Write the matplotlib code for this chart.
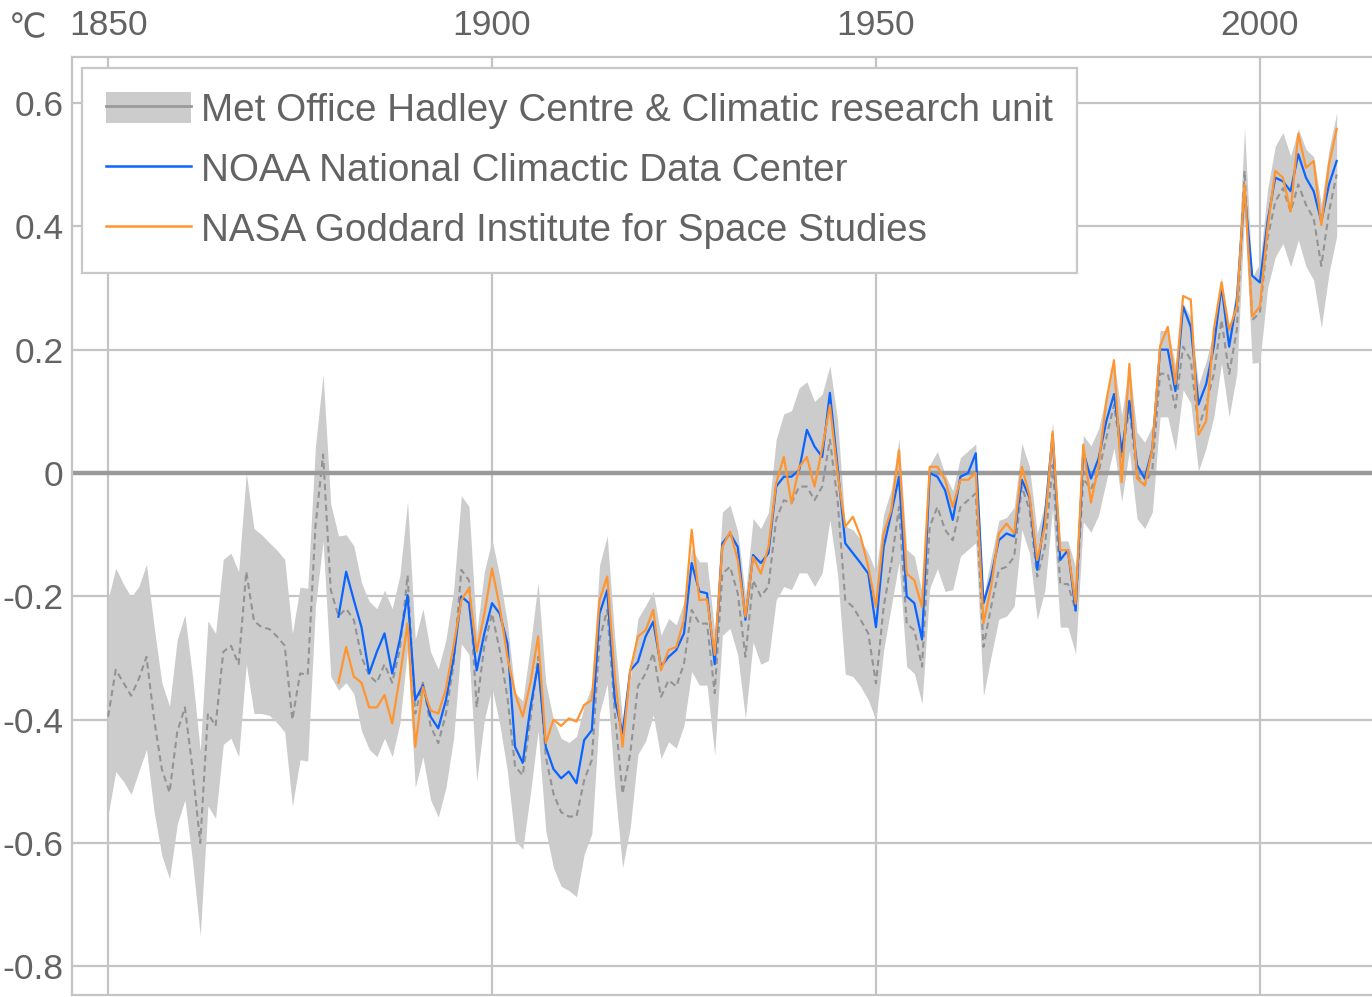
import matplotlib
matplotlib.use("Agg")
import matplotlib.pyplot as plt
from matplotlib.patches import Patch
from matplotlib.lines import Line2D

# ---------------- data ----------------
had_years = list(range(1850, 2011))
hadcrut = [
    -0.395, -0.319, -0.34, -0.361, -0.334, -0.298, -0.40, -0.48, -0.518, -0.42,
    -0.38, -0.48, -0.60, -0.39, -0.41, -0.29, -0.28, -0.31, -0.16, -0.24,
    -0.25, -0.253, -0.265, -0.28, -0.40, -0.325, -0.327, -0.087, 0.03, -0.19,
    -0.232, -0.22, -0.238, -0.298, -0.328, -0.34, -0.31, -0.34, -0.286, -0.166,
    -0.39, -0.34, -0.41, -0.438, -0.39, -0.31, -0.157, -0.174, -0.38, -0.28,
    -0.228, -0.287, -0.363, -0.476, -0.49, -0.40, -0.298, -0.46, -0.52, -0.55,
    -0.557, -0.557, -0.498, -0.465, -0.27, -0.222, -0.39, -0.52, -0.455, -0.346,
    -0.325, -0.292, -0.363, -0.336, -0.346, -0.309, -0.222, -0.244, -0.244, -0.357,
    -0.163, -0.152, -0.195, -0.298, -0.174, -0.2, -0.184, -0.076, -0.044, -0.049,
    -0.022, -0.022, -0.044, -0.022, 0.054, -0.044, -0.206, -0.217, -0.238, -0.26,
    -0.341, -0.217, -0.146, -0.055, -0.244, -0.255, -0.314, -0.087, -0.055, -0.092,
    -0.109, -0.055, -0.044, -0.033, -0.282, -0.217, -0.157, -0.152, -0.136, -0.022,
    -0.06, -0.168, -0.12, 0.013, -0.18, -0.18, -0.223, -0.009, -0.026, 0.002,
    0.057, 0.111, 0.024, 0.106, -0.004, -0.02, 0.007, 0.161, 0.161, 0.106,
    0.205, 0.183, 0.073, 0.111, 0.161, 0.248, 0.161, 0.232, 0.49, 0.248,
    0.26, 0.38, 0.44, 0.462, 0.424, 0.468, 0.435, 0.413, 0.336, 0.424,
    0.484,
]
had_unc_up = [
    0.19, 0.165, 0.16, 0.16, 0.15, 0.15, 0.15, 0.14, 0.14, 0.15,
    0.15, 0.15, 0.15, 0.15, 0.15, 0.15, 0.15, 0.15, 0.16, 0.15,
    0.15, 0.14, 0.14, 0.14, 0.14, 0.14, 0.14, 0.13, 0.13, 0.14,
    0.13, 0.12, 0.12, 0.12, 0.12, 0.12, 0.12, 0.12, 0.12, 0.12,
    0.12, 0.12, 0.12, 0.12, 0.12, 0.12, 0.12, 0.12, 0.12, 0.12,
    0.12, 0.12, 0.12, 0.12, 0.12, 0.12, 0.12, 0.12, 0.12, 0.12,
    0.12, 0.13, 0.12, 0.12, 0.12, 0.12, 0.12, 0.12, 0.12, 0.11,
    0.11, 0.10, 0.10, 0.10, 0.10, 0.10, 0.10, 0.10, 0.10, 0.10,
    0.10, 0.10, 0.10, 0.10, 0.10, 0.11, 0.12, 0.13, 0.14, 0.15,
    0.16, 0.17, 0.16, 0.15, 0.12, 0.13, 0.12, 0.125, 0.13, 0.13,
    0.18, 0.15, 0.12, 0.11, 0.12, 0.12, 0.12, 0.10, 0.09, 0.09,
    0.08, 0.08, 0.08, 0.08, 0.08, 0.08, 0.08, 0.08, 0.08, 0.07,
    0.07, 0.07, 0.07, 0.07, 0.07, 0.07, 0.07, 0.07, 0.07, 0.07,
    0.07, 0.07, 0.07, 0.07, 0.07, 0.07, 0.07, 0.07, 0.07, 0.07,
    0.07, 0.07, 0.07, 0.07, 0.07, 0.07, 0.07, 0.07, 0.07, 0.07,
    0.08, 0.08, 0.09, 0.09, 0.09, 0.09, 0.09, 0.10, 0.10, 0.10,
    0.10,
]
had_unc_down = [
    0.16, 0.165, 0.16, 0.16, 0.15, 0.15, 0.15, 0.14, 0.14, 0.15,
    0.15, 0.15, 0.15, 0.15, 0.15, 0.15, 0.15, 0.15, 0.15, 0.15,
    0.14, 0.14, 0.14, 0.14, 0.14, 0.14, 0.14, 0.13, 0.14, 0.14,
    0.12, 0.12, 0.12, 0.12, 0.12, 0.12, 0.12, 0.12, 0.12, 0.12,
    0.12, 0.12, 0.12, 0.12, 0.12, 0.12, 0.12, 0.12, 0.12, 0.12,
    0.12, 0.12, 0.12, 0.12, 0.12, 0.12, 0.12, 0.12, 0.12, 0.12,
    0.12, 0.13, 0.12, 0.12, 0.12, 0.12, 0.12, 0.12, 0.12, 0.11,
    0.11, 0.10, 0.10, 0.10, 0.10, 0.10, 0.10, 0.10, 0.10, 0.10,
    0.10, 0.10, 0.10, 0.10, 0.10, 0.11, 0.12, 0.13, 0.14, 0.14,
    0.14, 0.14, 0.14, 0.14, 0.13, 0.12, 0.12, 0.113, 0.108, 0.108,
    0.06, 0.07, 0.07, 0.09, 0.07, 0.07, 0.06, 0.10, 0.10, 0.10,
    0.08, 0.08, 0.08, 0.08, 0.08, 0.08, 0.08, 0.08, 0.08, 0.07,
    0.07, 0.07, 0.07, 0.07, 0.07, 0.07, 0.07, 0.07, 0.07, 0.07,
    0.07, 0.07, 0.07, 0.07, 0.07, 0.07, 0.07, 0.07, 0.07, 0.07,
    0.07, 0.07, 0.07, 0.07, 0.07, 0.07, 0.07, 0.07, 0.07, 0.07,
    0.08, 0.08, 0.09, 0.09, 0.09, 0.09, 0.10, 0.10, 0.10, 0.10,
    0.10,
]

us_years = list(range(1880, 2011))
noaa = [
    -0.233, -0.16, -0.206, -0.25, -0.325, -0.29, -0.26, -0.325, -0.27, -0.198,
    -0.368, -0.344, -0.395, -0.414, -0.368, -0.30, -0.20, -0.211, -0.32, -0.26,
    -0.211, -0.228, -0.276, -0.444, -0.47, -0.38, -0.31, -0.444, -0.48, -0.495,
    -0.484, -0.503, -0.433, -0.417, -0.228, -0.19, -0.368, -0.422, -0.32, -0.306,
    -0.265, -0.241, -0.314, -0.298, -0.287, -0.26, -0.146, -0.192, -0.195, -0.31,
    -0.114, -0.098, -0.12, -0.238, -0.133, -0.146, -0.13, -0.022, -0.006, -0.006,
    0.005, 0.07, 0.043, 0.026, 0.13, 0.01, -0.114, -0.13, -0.146, -0.163,
    -0.25, -0.12, -0.065, -0.006, -0.20, -0.211, -0.27, 0.0, -0.006, -0.028,
    -0.076, -0.006, 0.0, 0.032, -0.211, -0.168, -0.109, -0.098, -0.103, -0.011,
    -0.04, -0.157, -0.07, 0.062, -0.141, -0.125, -0.223, 0.035, -0.009, 0.024,
    0.084, 0.128, 0.035, 0.117, 0.013, -0.009, 0.04, 0.2, 0.2, 0.133,
    0.27, 0.237, 0.111, 0.144, 0.205, 0.303, 0.205, 0.281, 0.457, 0.32,
    0.309, 0.408, 0.479, 0.473, 0.457, 0.517, 0.479, 0.457, 0.408, 0.468,
    0.506,
]
nasa = [
    -0.34, -0.282, -0.33, -0.34, -0.38, -0.38, -0.36, -0.406, -0.33, -0.244,
    -0.444, -0.347, -0.385, -0.39, -0.35, -0.28, -0.206, -0.187, -0.29, -0.228,
    -0.155, -0.217, -0.298, -0.357, -0.395, -0.34, -0.265, -0.438, -0.40, -0.41,
    -0.398, -0.403, -0.376, -0.368, -0.206, -0.168, -0.33, -0.444, -0.32, -0.265,
    -0.255, -0.222, -0.32, -0.287, -0.282, -0.238, -0.092, -0.206, -0.205, -0.295,
    -0.12, -0.095, -0.141, -0.233, -0.136, -0.163, -0.12, -0.017, 0.026, -0.049,
    0.01, 0.026, -0.022, 0.04, 0.11, 0.0, -0.087, -0.071, -0.103, -0.152,
    -0.217, -0.098, -0.06, 0.037, -0.163, -0.174, -0.217, 0.01, 0.01, -0.011,
    -0.055, -0.011, -0.011, 0.0, -0.244, -0.184, -0.098, -0.082, -0.098, 0.01,
    -0.037, -0.141, -0.086, 0.067, -0.125, -0.125, -0.212, 0.046, -0.048, 0.013,
    0.117, 0.183, -0.015, 0.177, -0.009, -0.02, 0.04, 0.205, 0.237, 0.144,
    0.287, 0.281, 0.062, 0.084, 0.232, 0.309, 0.232, 0.27, 0.468, 0.254,
    0.27, 0.397, 0.49, 0.479, 0.424, 0.55, 0.495, 0.506, 0.402, 0.5,
    0.558,
]

x_ticks = [1850, 1900, 1950, 2000]
x_tick_labels = ["1850", "1900", "1950", "2000"]
y_ticks = [0.6, 0.4, 0.2, 0, -0.2, -0.4, -0.6, -0.8]
y_tick_labels = ["0.6", "0.4", "0.2", "0", "-0.2", "-0.4", "-0.6", "-0.8"]
series_labels = [
    "Met Office Hadley Centre & Climatic research unit",
    "NOAA National Climactic Data Center",
    "NASA Goddard Institute for Space Studies",
]
unit_label = "\u2103"

# ---------------- style ----------------
plt.rcParams["font.family"] = ["Liberation Sans", "DejaVu Sans"]
TEXT = "#636363"
GRID = "#c4c4c4"
BAND = "#cccccc"
DASH = "#939393"
BLUE = "#0a64ff"
ORANGE = "#ff9530"

W, H = 1372, 997
fig = plt.figure(figsize=(W / 100, H / 100), dpi=100)
ax = fig.add_axes([72 / W, 2 / H, (W - 72) / W, 938 / H])
ax.set_xlim(1845.3, 2014.6)
ax.set_ylim(-0.8464, 0.6746)

for t in y_ticks:
    if t != 0:
        ax.axhline(t, color=GRID, lw=1.6, zorder=0)
for t in x_ticks:
    ax.axvline(t, color=GRID, lw=1.6, zorder=0)

low = [c - d for c, d in zip(hadcrut, had_unc_down)]
high = [c + u for c, u in zip(hadcrut, had_unc_up)]
ax.fill_between(had_years, low, high, color=BAND, lw=0, zorder=1)
ax.plot(had_years, hadcrut, color=DASH, lw=1.5, ls=(0, (3, 2)), zorder=1.5)
ax.axhline(0, color="#9a9a9a", lw=3.2, zorder=2)
ax.plot(us_years, noaa, color=BLUE, lw=1.6, zorder=3)
ax.plot(us_years, nasa, color=ORANGE, lw=1.6, zorder=4)

ax.xaxis.tick_top()
ax.set_xticks(x_ticks)
ax.set_xticklabels(x_tick_labels)
ax.set_yticks(y_ticks)
ax.set_yticklabels(y_tick_labels)
ax.tick_params(axis="both", length=0, labelsize=25.5, colors=TEXT)
ax.tick_params(axis="x", pad=11)
ax.tick_params(axis="y", pad=6)

for side in ["top", "left", "bottom"]:
    ax.spines[side].set_color(GRID)
    ax.spines[side].set_linewidth(1.6)
ax.spines["right"].set_visible(False)

fig.text(28 / W, 1 - 29 / H, unit_label, ha="center", va="center",
         fontsize=24, color=TEXT)

handles = [
    (Patch(facecolor=BAND, edgecolor="none"), Line2D([], [], color="#9a9a9a", lw=2)),
    Line2D([], [], color=BLUE, lw=1.8),
    Line2D([], [], color=ORANGE, lw=1.8),
]
leg = ax.legend(handles, series_labels, loc="upper left",
                bbox_to_anchor=(10 / 1300, 1 - 11 / 938), borderaxespad=0,
                fontsize=27.8, frameon=True, fancybox=False, framealpha=1,
                edgecolor="#c8c8c8", borderpad=0.62, handlelength=2.2,
                handleheight=0.85, handletextpad=0.27, labelspacing=0.6,
                labelcolor=TEXT)
leg.get_frame().set_linewidth(1.6)
leg.set_zorder(10)

fig.savefig("out.png", dpi=100)
